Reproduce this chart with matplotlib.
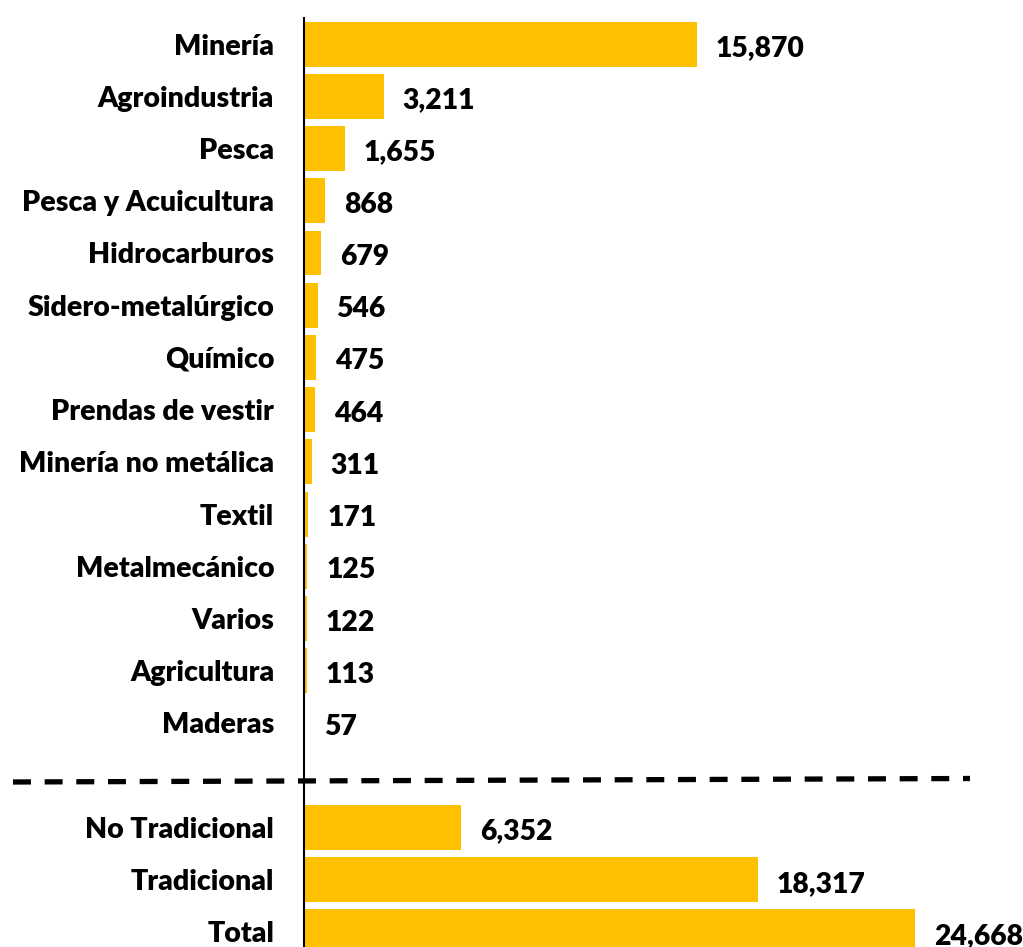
import numpy as np
import matplotlib
matplotlib.use("Agg")
from matplotlib import pyplot as plt

# sectors (top to bottom), millions US$
sectores = ['Minería', 'Agroindustria', 'Pesca', 'Pesca y Acuicultura', 'Hidrocarburos',
            'Sidero-metalúrgico', 'Químico', 'Prendas de vestir', 'Minería no metálica',
            'Textil', 'Metalmecánico', 'Varios', 'Agricultura', 'Maderas']
valores = [15870, 3211, 1655, 868, 679, 546, 475, 464, 311, 171, 125, 122, 113, 57]

totales = ['No Tradicional', 'Tradicional', 'Total']
valores_tot = [6352, 18317, 24668]

plt.rcParams['font.family'] = ['Lato', 'DejaVu Sans']

W, H = 1023, 947
fig = plt.figure(figsize=(W / 100, H / 100), dpi=100)

x0 = 304 / W
px_per_unit = 393 / 15870
xmax = 28000
ax = fig.add_axes([x0, 0, xmax * px_per_unit / W, 1 - 18 / H])

labels = sectores + [''] + totales
vals = valores + [np.nan] + valores_tot
pos = np.arange(len(labels))

color = '#FFC000'
ax.barh(pos, vals, height=0.86, color=color)

for p, v in zip(pos, vals):
    if np.isnan(v):
        continue
    ax.annotate(f'{int(v):,}', xy=(v, p), xytext=(19, -4), textcoords='offset pixels',
                ha='left', va='center', fontsize=20.3, fontweight='heavy', color='black')

ax.set_xlim(0, xmax)
ax.set_ylim(17.29, -0.5)
ax.set_yticks(pos)
ax.set_yticklabels(labels, fontsize=20.5, fontweight='heavy')
ax.tick_params(axis='y', length=0, pad=21.5)
ax.set_xticks([])
for s in ['top', 'right', 'bottom']:
    ax.spines[s].set_visible(False)
ax.spines['left'].set_linewidth(1.5)
ax.spines['left'].set_color('black')

# dashed separator across label area and plot
fig.add_artist(plt.Line2D([13 / W, 970 / W], [1 - 782 / H, 1 - 778.5 / H],
                          transform=fig.transFigure, color='black', lw=3.8,
                          linestyle=(0, (3.4, 2.6))))

fig.savefig('out.png', dpi=100)
